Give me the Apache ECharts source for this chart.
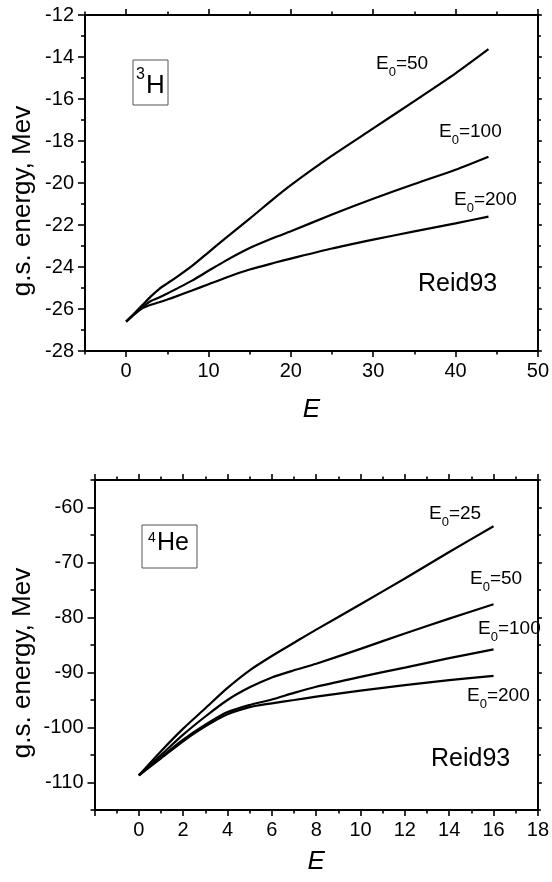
<!DOCTYPE html>
<html>
<head>
<meta charset="utf-8">
<script src="https://cdn.jsdelivr.net/npm/echarts@6/dist/echarts.min.js"></script>
<style>
html,body{margin:0;padding:0;background:#fff;}
#c{width:552px;height:882px;}
</style>
</head>
<body>
<div id="c"></div>
<script>
// ---------- data: top panel (3H) ----------
const h3X = [0,1,2,3,4,5,6,8,10,12,15,18,20,25,30,35,40,44];
const h3E50  = [-26.6,-26.2,-25.8,-25.4,-25.05,-24.78,-24.52,-23.95,-23.3,-22.65,-21.7,-20.72,-20.1,-18.7,-17.4,-16.1,-14.78,-13.63];
const h3E100 = [-26.6,-26.25,-25.9,-25.62,-25.45,-25.26,-25.06,-24.65,-24.18,-23.72,-23.1,-22.6,-22.3,-21.5,-20.75,-20.05,-19.37,-18.75];
const h3E200 = [-26.6,-26.25,-25.96,-25.8,-25.68,-25.55,-25.41,-25.12,-24.82,-24.52,-24.12,-23.8,-23.6,-23.12,-22.7,-22.3,-21.92,-21.6];
const h3XLabels = [0,10,20,30,40,50];
const h3XMinor = [-5,5,15,25,35,45];
const h3YLabels = [-28,-26,-24,-22,-20,-18,-16,-14,-12];
const h3YMinor = [-27,-25,-23,-21,-19,-17,-15,-13];

// ---------- data: bottom panel (4He) ----------
const heX = [0,1,2,3,4,5,6,7,8,10,12,14,16];
const heE25  = [-108.7,-104.3,-100.2,-96.5,-92.8,-89.6,-87.0,-84.6,-82.2,-77.6,-72.9,-68.1,-63.4];
const heE50  = [-108.7,-105.0,-101.3,-98.0,-95.0,-92.7,-90.9,-89.6,-88.4,-85.7,-82.9,-80.2,-77.6];
const heE100 = [-108.7,-105.4,-102.2,-99.5,-97.2,-95.9,-94.9,-93.7,-92.6,-90.8,-89.1,-87.4,-85.8];
const heE200 = [-108.7,-105.6,-102.5,-99.8,-97.6,-96.3,-95.6,-95.0,-94.4,-93.3,-92.3,-91.4,-90.6];
const heXLabels = [0,2,4,6,8,10,12,14,16,18];
const heXMajor = [-2,0,2,4,6,8,10,12,14,16,18];
const heXMinor = [-1,1,3,5,7,9,11,13,15,17];
const heYLabels = [-110,-100,-90,-80,-70,-60];
const heYMinor = [-115,-105,-95,-85,-75,-65,-55];

const FONT = '"Liberation Sans", Arial, sans-serif';
const LBL = {color:'#000', fontSize:20, fontFamily:FONT};

function pair(xs, ys){ return xs.map((x,i)=>[x, ys[i]]); }

function axis(dim, gridIndex, position, min, max, ticks, tickLen, labels, showLine, name, nameGap){
  const a = {
    type:'value', gridIndex, position, min, max,
    axisLine:{show:showLine, onZero:false, lineStyle:{color:'#000', width:2}},
    axisTick:{show:true, inside:false, customValues:ticks, length:tickLen, lineStyle:{color:'#000', width:1.6}},
    axisLabel: labels ? Object.assign({show:true, customValues:labels, margin:(dim==='x'?10:11)}, LBL) : {show:false},
    splitLine:{show:false}
  };
  if (name) {
    a.name = name; a.nameLocation = 'middle'; a.nameGap = nameGap;
    a.nameTextStyle = {color:'#000', fontSize:26, fontStyle:'italic', fontFamily:FONT};
  }
  return a;
}

const xAxis = [
  // top panel
  axis('x',0,'bottom',-5,50,h3XLabels,6,h3XLabels,true,'E',46),
  axis('x',0,'bottom',-5,50,h3XMinor,3.5,null,false),
  axis('x',0,'top',-5,50,h3XLabels,6,null,true),
  axis('x',0,'top',-5,50,h3XMinor,3.5,null,false),
  // bottom panel
  axis('x',1,'bottom',-2,18,heXMajor,6,heXLabels,true,'E',39),
  axis('x',1,'bottom',-2,18,heXMinor,3.5,null,false),
  axis('x',1,'top',-2,18,heXMajor,6,null,true),
  axis('x',1,'top',-2,18,heXMinor,3.5,null,false)
];
const yAxis = [
  axis('y',0,'left',-28,-12,h3YLabels,7,h3YLabels,true),
  axis('y',0,'left',-28,-12,h3YMinor,4,null,false),
  axis('y',0,'right',-28,-12,h3YLabels,4,null,true),
  axis('y',0,'right',-28,-12,h3YMinor,3,null,false),
  axis('y',1,'left',-115,-55,heYLabels,7,heYLabels,true),
  axis('y',1,'left',-115,-55,heYMinor,4,null,false),
  axis('y',1,'right',-115,-55,heYLabels,4,null,true),
  axis('y',1,'right',-115,-55,heYMinor,3,null,false)
];

function line(name, xi, yi, data){
  return {type:'line', name, xAxisIndex:xi, yAxisIndex:yi, data, showSymbol:false, smooth:0.25,
    lineStyle:{color:'#000', width:2.2}, silent:true, animation:false};
}
const series = [
  line('3H E0=50',0,0,pair(h3X,h3E50)),
  line('3H E0=100',0,0,pair(h3X,h3E100)),
  line('3H E0=200',0,0,pair(h3X,h3E200)),
  line('4He E0=25',4,4,pair(heX,heE25)),
  line('4He E0=50',4,4,pair(heX,heE50)),
  line('4He E0=100',4,4,pair(heX,heE100)),
  line('4He E0=200',4,4,pair(heX,heE200))
];

// ---------- annotation text helpers ----------
const mctx = document.createElement('canvas').getContext('2d');
function tw(t, size){ mctx.font = size + 'px "Liberation Sans"'; return mctx.measureText(t).width; }
const graphic = [];
function txt(t, x, baseline, size, extra){
  graphic.push(Object.assign({type:'text', x:x, y:baseline - 0.36*size, silent:true,
    style:{text:t, font:size+'px '+FONT, fill:'#000', align:'left', verticalAlign:'middle'}}, extra||{}));
}
function eLabel(val, x, baseline){
  txt('E', x, baseline, 19);
  const w1 = tw('E',19);
  txt('0', x + w1, baseline + 6, 13);
  const w2 = tw('0',13);
  txt('=' + val, x + w1 + w2, baseline, 19);
}
function box(x, y, w, h){
  graphic.push({type:'rect', shape:{x, y, width:w, height:h}, silent:true,
    style:{fill:'#fff', stroke:'#555', lineWidth:1}});
}

// top panel annotations
box(133, 60, 35, 45);
txt('3', 136, 80, 16);
txt('H', 146, 95, 26);
eLabel('50', 376, 71);
eLabel('100', 439, 139);
eLabel('200', 454, 207);
txt('Reid93', 418, 293, 25);
graphic.push({type:'text', x:23, y:201, rotation:Math.PI/2, silent:true,
  style:{text:'g.s. energy, Mev', font:'26px '+FONT, fill:'#000', align:'center', verticalAlign:'middle'}});

// bottom panel annotations
box(142, 525, 55, 43);
txt('4', 148, 543, 14);
txt('He', 157, 552, 25);
eLabel('25', 429, 521);
eLabel('50', 470, 586);
eLabel('100', 478, 636);
eLabel('200', 467, 703);
txt('Reid93', 431, 768, 25);
graphic.push({type:'text', x:23, y:663, rotation:Math.PI/2, silent:true,
  style:{text:'g.s. energy, Mev', font:'26px '+FONT, fill:'#000', align:'center', verticalAlign:'middle'}});

const chart = echarts.init(document.getElementById('c'), null, {renderer:'canvas'});
chart.setOption({
  animation:false,
  backgroundColor:'#fff',
  grid:[
    {left:85, top:15, width:455, height:336},
    {left:94.5, top:480, width:447.5, height:330}
  ],
  xAxis, yAxis, series, graphic
});
</script>
</body>
</html>
